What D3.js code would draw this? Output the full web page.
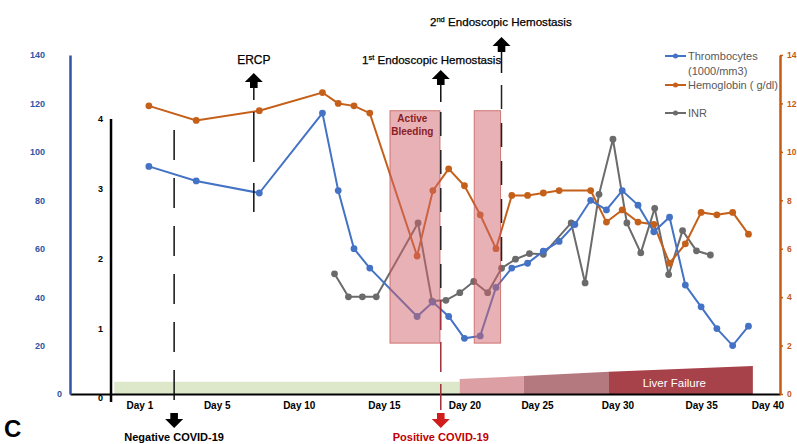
<!DOCTYPE html>
<html>
<head>
<meta charset="utf-8">
<script src="https://cdn.jsdelivr.net/npm/d3@7"></script>
<style>
  html, body { margin: 0; padding: 0; background: #fff; }
  svg { display: block; font-family: "Liberation Sans", Arial, sans-serif; }
</style>
</head>
<body>
<svg id="chart" width="797" height="444"></svg>
<script>
// ---------------- data ----------------
const pltDays = [1,4,8,12,13,14,15,18,19,20,21,22,23,24,25,26,27,28,29,30,31,32,33,34,35,36,37,38,39];
const pltValues = [94,88,83,116,84,60,52,32,38,32,23,24,44,52,54,59,63,70,80,76,84,78,67,73,45,36,27,20,28];

const hgbDays = [1,4,8,12,13,14,15,18,19,20,21,22,23,24,25,26,27,29,30,31,32,33,34,35,36,37,38,39];
const hgbValues = [11.9,11.3,11.7,12.45,12.0,11.9,11.6,5.7,8.4,9.3,8.6,7.4,6.0,8.2,8.2,8.3,8.4,8.4,7.1,7.6,7.1,7.0,5.4,6.2,7.5,7.4,7.5,6.6];

// INR is plotted against its own (secondary) sample axis
const inrIndex = [0,1,2,3,6,7,8,9,10,11,12,13,14,15,17,18,19,20,21,22,23,24,25,26,27];
const inrValues = [1.78,1.45,1.45,1.45,2.51,1.39,1.40,1.51,1.67,1.51,1.86,1.99,2.07,2.06,2.51,1.65,2.92,3.71,2.51,2.08,2.72,1.77,2.40,2.11,2.05];

const xTickLabels = ["Day 1","Day 5","Day 10","Day 15","Day 20","Day 25","Day 30","Day 35","Day 40"];
const xTickAt = [0.4,5.3,10.5,15.9,21.0,25.6,30.7,36.0,40.2];
const pltTicks = [0,20,40,60,80,100,120,140];
const hgbTicks = [0,2,4,6,8,10,12,14];
const inrTicks = [0,1,2,3,4];

// bleeding windows (day ranges), drawn between thrombocyte levels
const bleedStart = [16.28, 21.62];
const bleedEnd = [19.45, 23.29];
const bleedLow = 21, bleedHigh = 117;

// clinical course bands along the bottom (day ranges, heights on thrombocyte scale)
const phaseStart = [-1.2, 20.7, 24.77, 30.16];
const phaseEnd = [20.7, 24.77, 30.16, 39.28];
const phaseH0 = [5.1, 6.2, 7.4, 9.2];
const phaseH1 = [5.1, 7.4, 9.2, 11.6];
const phaseColors = ["#dde8cb", "#dca0a4", "#b4787f", "#a7414a"];

// events (day positions)
const negCovidDay = 2.6, ercpDay = 7.65, endo1Day = 19.5, endo2Day = 23.35;

// ---------------- colors ----------------
const cBlue = "#4472c4", cOrange = "#c5601a", cGray = "#6b6b6b";
const cBlueAxis = "#2f55a5", cOrangeAxis = "#c55a11";

// ---------------- scales ----------------
const L = 70, R = 780;
const xDay = d3.scaleLinear().domain([-4, 41]).range([L, R]);
const xInr = d3.scaleLinear().domain([-19, 32]).range([L, R]);
const yPlt = d3.scaleLinear().domain([0, 140]).range([394, 55]);
const yHgb = d3.scaleLinear().domain([0, 14]).range([394, 55]);
const yInr = d3.scaleLinear().domain([0, 4]).range([398, 119]);

const svg = d3.select("#chart");

// ---------------- bottom bands ----------------
const bands = svg.append("g");
phaseStart.forEach((s, i) => {
  const e = phaseEnd[i];
  const pts = [[xDay(s), yPlt(0)], [xDay(s), yPlt(phaseH0[i])], [xDay(e), yPlt(phaseH1[i])], [xDay(e), yPlt(0)]];
  bands.append("polygon").attr("points", pts.map(p => p.join(",")).join(" ")).attr("fill", phaseColors[i]);
});
svg.append("text").attr("x", xDay(34.3)).attr("y", 387).attr("text-anchor", "middle")
  .attr("fill", "#fff").attr("font-size", 11.5).text("Liver Failure");

// ---------------- series ----------------
function drawSeries(xs, ys, xScale, yScale, color) {
  const pts = xs.map((d, i) => [xScale(d), yScale(ys[i])]);
  const g = svg.append("g");
  g.append("path").attr("d", d3.line()(pts)).attr("fill", "none")
    .attr("stroke", color).attr("stroke-width", 2);
  g.selectAll("circle").data(pts).join("circle")
    .attr("cx", d => d[0]).attr("cy", d => d[1]).attr("r", 3.4).attr("fill", color);
}
drawSeries(inrIndex, inrValues, xInr, yInr, cGray);
drawSeries(hgbDays, hgbValues, xDay, yHgb, cOrange);
drawSeries(pltDays, pltValues, xDay, yPlt, cBlue);

// ---------------- bleeding boxes ----------------
bleedStart.forEach((s, i) => {
  svg.append("rect")
    .attr("x", xDay(s)).attr("y", yPlt(bleedHigh))
    .attr("width", xDay(bleedEnd[i]) - xDay(s)).attr("height", yPlt(bleedLow) - yPlt(bleedHigh))
    .attr("fill", "#d0646c").attr("fill-opacity", 0.5)
    .attr("stroke", "#c0504d").attr("stroke-opacity", 0.7).attr("stroke-width", 1);
});
const ab = svg.append("text").attr("text-anchor", "middle").attr("fill", "#8b1c24")
  .attr("font-size", 10).attr("font-weight", "bold");
ab.append("tspan").attr("x", xDay(17.7)).attr("y", 122).text("Active");
ab.append("tspan").attr("x", xDay(17.7)).attr("y", 135).text("Bleeding");

// ---------------- axes ----------------
const xAxis = svg.append("g").attr("transform", "translate(0,394)")
  .call(d3.axisBottom(xDay).tickValues(xTickAt).tickFormat((d, i) => xTickLabels[i]).tickSize(0).tickPadding(8));
xAxis.select(".domain").attr("stroke", "#000").attr("stroke-width", 2);
xAxis.selectAll("text").attr("font-size", 10).attr("font-weight", "bold").attr("fill", "#000")
  .attr("font-family", "Liberation Sans, Arial, sans-serif");

const yAxisL = svg.append("g").attr("transform", `translate(${L},0)`)
  .call(d3.axisLeft(yPlt).tickValues(pltTicks).tickFormat(d3.format("d")).tickSize(0).tickPadding(25));
yAxisL.select(".domain").attr("stroke", cBlueAxis).attr("stroke-width", 2.5);
yAxisL.selectAll("text").attr("font-size", 9).attr("font-weight", "bold").attr("fill", cBlueAxis)
  .attr("font-family", "Liberation Sans, Arial, sans-serif");
yAxisL.selectAll(".tick").filter(d => d === 0).select("text").attr("x", -8);

const yAxisI = svg.append("g").attr("transform", `translate(${xDay(-1.4)},0)`)
  .call(d3.axisLeft(yInr).tickValues(inrTicks).tickFormat(d3.format("d")).tickSize(0).tickPadding(8));
yAxisI.select(".domain").attr("stroke", "#000").attr("stroke-width", 2.5)
  .attr("d", `M0,${yInr(4)}V${yInr(0) + 4}`);
yAxisI.selectAll("text").attr("font-size", 9).attr("font-weight", "bold").attr("fill", "#000")
  .attr("font-family", "Liberation Sans, Arial, sans-serif");

const yAxisR = svg.append("g").attr("transform", `translate(${R},0)`)
  .call(d3.axisRight(yHgb).tickValues(hgbTicks).tickFormat(d3.format("d")).tickSize(3).tickSizeOuter(0).tickPadding(4));
yAxisR.select(".domain").attr("stroke", cOrangeAxis).attr("stroke-width", 2.5);
yAxisR.selectAll("line").attr("stroke", cOrangeAxis).attr("stroke-width", 1.5);
yAxisR.selectAll("text").attr("font-size", 8.5).attr("font-weight", "bold").attr("fill", cOrangeAxis)
  .attr("font-family", "Liberation Sans, Arial, sans-serif");

// ---------------- event markers ----------------
function blockArrow(cx, tip, dir, color) {
  // dir: -1 = up, +1 = down
  const hh = 9, hw = 9, bh = 6, bw = 3.8;
  const b = tip - dir * hh, e = b - dir * bh;
  const p = [[cx, tip], [cx + hw, b], [cx + bw, b], [cx + bw, e], [cx - bw, e], [cx - bw, b], [cx - hw, b]];
  svg.append("path").attr("d", "M" + p.map(q => q.join(",")).join("L") + "Z").attr("fill", color);
}
function vline(x, y1, y2, color, dash, w) {
  svg.append("line").attr("x1", x).attr("x2", x).attr("y1", y1).attr("y2", y2)
    .attr("stroke", color).attr("stroke-width", w || 1.5).attr("stroke-dasharray", dash || null);
}

// Negative COVID-19
const xn = xDay(negCovidDay);
vline(xn, 130, 410, "#111", "30,18");
blockArrow(xn, 428, 1, "#000");
svg.append("text").attr("x", xn).attr("y", 441).attr("text-anchor", "middle")
  .attr("font-size", 11).attr("font-weight", "bold").attr("fill", "#000").text("Negative COVID-19");

// ERCP
const xe = xDay(ercpDay);
blockArrow(xe, 73, -1, "#000");
vline(xe, 87, 100, "#111");
vline(xe, 112, 212, "#111", "50,21");
svg.append("text").attr("x", xe).attr("y", 64).attr("text-anchor", "middle")
  .attr("font-size", 12).attr("fill", "#000").attr("stroke", "#000").attr("stroke-width", 0.25).text("ERCP");

// 1st endoscopic hemostasis / positive COVID
const x1 = xDay(endo1Day);
blockArrow(x1, 70, -1, "#000");
vline(x1, 84, 102, "#111");
vline(x1, 112, 300, "#222", "24,14");
vline(x1, 300, 410, "#a0303a", "30,12");
blockArrow(x1, 428, 1, "#d01c1c");
svg.append("text").attr("x", x1).attr("y", 441).attr("text-anchor", "middle")
  .attr("font-size", 11).attr("font-weight", "bold").attr("fill", "#c00000").text("Positive COVID-19");
const t1 = svg.append("text").attr("x", 362).attr("y", 64).attr("font-size", 11.6).attr("fill", "#000")
  .attr("stroke", "#000").attr("stroke-width", 0.25);
t1.append("tspan").text("1");
t1.append("tspan").attr("font-size", 7.5).attr("dy", -4).text("st");
t1.append("tspan").attr("dy", 4).text(" Endoscopic Hemostasis");

// 2nd endoscopic hemostasis
const x2 = xDay(endo2Day);
blockArrow(x2, 37, -1, "#000");
vline(x2, 51, 73, "#111");
vline(x2, 85, 265, "#222", "24,14");
const t2 = svg.append("text").attr("x", 430).attr("y", 26).attr("font-size", 11.6).attr("fill", "#000")
  .attr("stroke", "#000").attr("stroke-width", 0.25);
t2.append("tspan").text("2");
t2.append("tspan").attr("font-size", 7.5).attr("dy", -4).text("nd");
t2.append("tspan").attr("dy", 4).text(" Endoscopic Hemostasis");

// ---------------- legend ----------------
const legend = svg.append("g").attr("font-size", 11).attr("fill", "#595959");
const legItems = [
  {color: cBlue, y: 56, lines: ["Thrombocytes", "(1000/mm3)"]},
  {color: cOrange, y: 85, lines: ["Hemoglobin ( g/dl)"]},
  {color: cGray, y: 113, lines: ["INR"]}
];
legItems.forEach(it => {
  legend.append("line").attr("x1", 665).attr("x2", 686).attr("y1", it.y).attr("y2", it.y)
    .attr("stroke", it.color).attr("stroke-width", 2);
  legend.append("circle").attr("cx", 675.5).attr("cy", it.y).attr("r", 2.5).attr("fill", it.color);
  it.lines.forEach((t, j) => {
    legend.append("text").attr("x", 688).attr("y", it.y + 4 + j * 15).text(t);
  });
});

// panel letter
svg.append("text").attr("x", 4).attr("y", 437).attr("font-size", 24).attr("font-weight", "bold")
  .attr("fill", "#000").text("C");
</script>
</body>
</html>
